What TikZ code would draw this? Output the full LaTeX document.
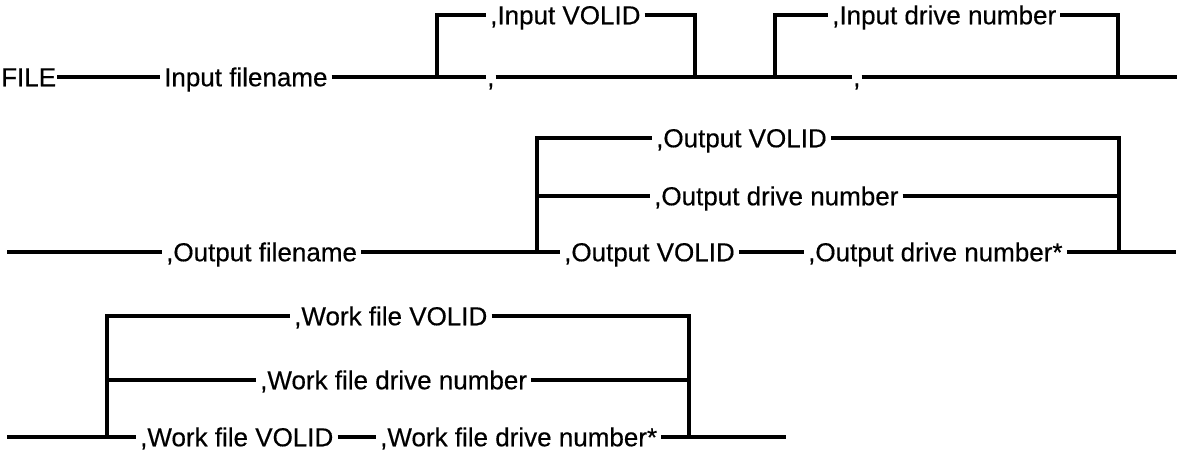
\documentclass[tikz,border=0pt]{standalone}
\usepackage{fontspec}
\setmainfont{Liberation Sans}
\newfontfamily\railfont{Liberation Sans}[FakeBold=0.4]
\begin{document}
\begin{tikzpicture}[x=1pt,y=-1pt,
	rail/.style={line width=3.4pt},
	lbl/.style={anchor=west,inner xsep=4pt,inner ysep=0pt,text height=18.5pt,text depth=0pt,
		font=\railfont\fontsize{26}{30}\selectfont}]
	\useasboundingbox (0,0) rectangle (1183,451);

	% first line
	\node[lbl,inner xsep=1pt] (file) at (0,77) {FILE};
	\node[lbl] (infile) at (160,77) {Input filename};
	\coordinate (a1) at (437,77);
	\coordinate (b1) at (695,77);
	\node[lbl] (involid) at (486,15) {,Input VOLID};
	\node[lbl,inner xsep=1pt] (c1) at (486,77) {,};
	\coordinate (a2) at (775,77);
	\coordinate (b2) at (1118,77);
	\node[lbl] (indrive) at (828,15) {,Input drive number};
	\node[lbl,inner xsep=1pt] (c2) at (852,77) {,};
	\coordinate (e1) at (1177,77);

	\draw[rail] (file) -- (infile);
	\draw[rail] (infile) -- (c1);
	\draw[rail] (a1) |- (involid);
	\draw[rail] (involid) -| (b1);
	\draw[rail] (c1) -- (c2);
	\draw[rail] (a2) |- (indrive);
	\draw[rail] (indrive) -| (b2);
	\draw[rail] (c2) -- (e1);

	% second line
	\coordinate (s2) at (7,252);
	\node[lbl] (outfile) at (162,252) {,Output filename};
	\coordinate (a3) at (537,252);
	\coordinate (a3m) at (537,196);
	\coordinate (b3) at (1119,252);
	\coordinate (b3m) at (1119,196);
	\node[lbl] (outvolid) at (652,138) {,Output VOLID};
	\node[lbl] (outdrive) at (650,196) {,Output drive number};
	\node[lbl] (outvolid2) at (560,252) {,Output VOLID};
	\node[lbl] (outdrive2) at (804,252) {,Output drive number*};
	\coordinate (e2) at (1176,252);

	\draw[rail] (s2) -- (outfile);
	\draw[rail] (outfile) -- (outvolid2);
	\draw[rail] (a3) |- (outvolid);
	\draw[rail] (a3m) -- (outdrive);
	\draw[rail] (outvolid) -| (b3);
	\draw[rail] (outdrive) -- (b3m);
	\draw[rail] (outvolid2) -- (outdrive2);
	\draw[rail] (outdrive2) -- (e2);

	% third line
	\coordinate (s3) at (7,437);
	\coordinate (a4) at (107,437);
	\coordinate (a4m) at (107,380);
	\coordinate (b4) at (689,437);
	\coordinate (b4m) at (689,380);
	\node[lbl] (wvolid) at (290,316) {,Work file VOLID};
	\node[lbl] (wdrive) at (256,380) {,Work file drive number};
	\node[lbl] (wvolid2) at (136,437) {,Work file VOLID};
	\node[lbl] (wdrive2) at (376,437) {,Work file drive number*};
	\coordinate (e3) at (786,437);

	\draw[rail] (s3) -- (wvolid2);
	\draw[rail] (a4) |- (wvolid);
	\draw[rail] (a4m) -- (wdrive);
	\draw[rail] (wvolid) -| (b4);
	\draw[rail] (wdrive) -- (b4m);
	\draw[rail] (wvolid2) -- (wdrive2);
	\draw[rail] (wdrive2) -- (e3);
\end{tikzpicture}
\end{document}
